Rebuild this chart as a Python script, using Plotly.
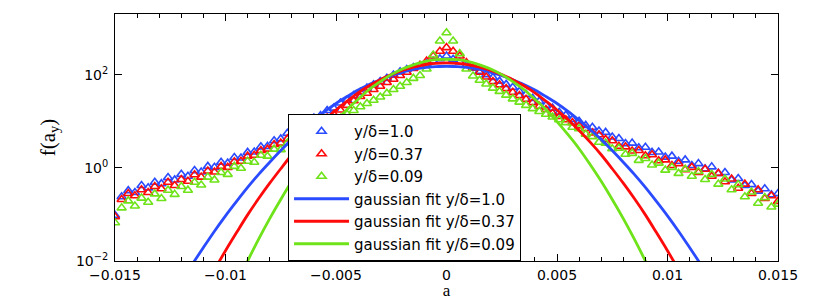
import numpy as np
import plotly.graph_objects as go

# ---- data (log10 of f(a_y)) ----
a_bins = np.round(np.linspace(-0.015, 0.015, 101), 5)   # histogram bin centres
a_fit = np.round(np.linspace(-0.012, 0.012, 49), 5)     # abscissa of the fitted curves

log_f_y10 = [-1.02, -0.62, -0.49, -0.53, -0.38, -0.43, -0.31, -0.34, -0.21, -0.26,
             -0.14, -0.18, -0.06, -0.09, 0.03, 0.01, 0.12, 0.10, 0.22, 0.21,
             0.33, 0.34, 0.45, 0.46, 0.58, 0.62, 0.74, 0.79, 0.90, 0.96,
             1.07, 1.12, 1.23, 1.28, 1.39, 1.45, 1.55, 1.62, 1.71, 1.78,
             1.85, 1.92, 1.99, 2.06, 2.11, 2.15, 2.19, 2.24, 2.29, 2.34,
             2.40,
             2.33, 2.27, 2.20, 2.14, 2.07, 2.00, 1.94, 1.86, 1.79, 1.73,
             1.64, 1.58, 1.49, 1.43, 1.34, 1.28, 1.19, 1.13, 1.04, 1.00,
             0.91, 0.87, 0.79, 0.76, 0.66, 0.63, 0.52, 0.53, 0.43, 0.44,
             0.33, 0.34, 0.23, 0.25, 0.14, 0.17, 0.05, 0.09, -0.02, 0.02,
             -0.12, -0.10, -0.26, -0.23, -0.38, -0.36, -0.50, -0.45, -0.58, -0.55]

log_f_y037 = [-1.05, -0.68, -0.55, -0.60, -0.47, -0.53, -0.40, -0.45, -0.31, -0.38,
              -0.25, -0.29, -0.15, -0.20, -0.07, -0.09, 0.03, 0.01, 0.13, 0.14,
              0.25, 0.27, 0.37, 0.40, 0.50, 0.53, 0.62, 0.66, 0.75, 0.81,
              0.91, 0.98, 1.07, 1.15, 1.24, 1.34, 1.44, 1.53, 1.60, 1.68,
              1.75, 1.83, 1.90, 1.98, 2.05, 2.13, 2.20, 2.29, 2.40, 2.50,
              2.58,
              2.50, 2.40, 2.26, 2.15, 2.05, 1.95, 1.85, 1.78, 1.70, 1.62,
              1.55, 1.47, 1.40, 1.32, 1.25, 1.17, 1.10, 1.03, 0.97, 0.90,
              0.84, 0.75, 0.71, 0.61, 0.58, 0.46, 0.45, 0.36, 0.37, 0.26,
              0.28, 0.15, 0.17, 0.05, 0.09, -0.04, 0.01, -0.10, -0.03, -0.18,
              -0.12, -0.30, -0.24, -0.44, -0.35, -0.55, -0.47, -0.66, -0.60, -0.72]

log_f_y009 = [-1.18, -0.86, -0.71, -0.82, -0.65, -0.74, -0.56, -0.66, -0.48, -0.57,
              -0.40, -0.48, -0.31, -0.37, -0.20, -0.26, -0.10, -0.14, 0.03, -0.01,
              0.14, 0.12, 0.27, 0.25, 0.40, 0.39, 0.53, 0.53, 0.67, 0.69,
              0.80, 0.84, 0.93, 0.97, 1.06, 1.15, 1.23, 1.31, 1.38, 1.45,
              1.52, 1.60, 1.68, 1.75, 1.83, 1.92, 1.98, 2.12, 2.42, 2.72,
              2.90,
              2.72, 2.45, 2.12, 1.97, 1.88, 1.80, 1.71, 1.64, 1.56, 1.48,
              1.41, 1.34, 1.27, 1.21, 1.15, 1.09, 1.03, 0.97, 0.87, 0.84,
              0.72, 0.67, 0.55, 0.53, 0.41, 0.42, 0.29, 0.31, 0.16, 0.20,
              0.06, 0.10, -0.05, 0.01, -0.12, -0.03, -0.18, -0.08, -0.25, -0.14,
              -0.35, -0.24, -0.47, -0.36, -0.62, -0.52, -0.76, -0.64, -0.84, -0.78]

log_fit_y10 = [-2.45, -2.07, -1.71, -1.36, -1.03, -0.72, -0.42, -0.14, 0.12, 0.37,
               0.61, 0.82, 1.02, 1.21, 1.38, 1.53, 1.67, 1.79, 1.89, 1.98,
               2.05, 2.11, 2.15, 2.17, 2.18, 2.17, 2.15, 2.11, 2.05, 1.98,
               1.89, 1.79, 1.67, 1.53, 1.38, 1.21, 1.02, 0.82, 0.61, 0.37,
               0.12, -0.14, -0.42, -0.72, -1.03, -1.36, -1.71, -2.07, -2.45]

log_fit_y037 = [-3.55, -3.08, -2.63, -2.19, -1.78, -1.39, -1.01, -0.66, -0.33, -0.02,
                0.28, 0.55, 0.80, 1.03, 1.24, 1.43, 1.61, 1.76, 1.89, 2.00,
                2.09, 2.16, 2.21, 2.24, 2.25, 2.24, 2.21, 2.16, 2.09, 2.00,
                1.89, 1.76, 1.61, 1.43, 1.24, 1.03, 0.80, 0.55, 0.28, -0.02,
                -0.33, -0.66, -1.01, -1.39, -1.78, -2.19, -2.63, -3.08, -3.55]

log_fit_y009 = [-5.37, -4.74, -4.14, -3.57, -3.02, -2.50, -2.00, -1.53, -1.09, -0.68,
                -0.29, 0.07, 0.41, 0.71, 0.99, 1.25, 1.47, 1.68, 1.85, 2.00,
                2.12, 2.21, 2.28, 2.32, 2.33, 2.32, 2.28, 2.21, 2.12, 2.00,
                1.85, 1.68, 1.47, 1.25, 0.99, 0.71, 0.41, 0.07, -0.29, -0.68,
                -1.09, -1.53, -2.00, -2.50, -3.02, -3.57, -4.14, -4.74, -5.37]

series_names = ["y/δ=1.0", "y/δ=0.37", "y/δ=0.09"]
fit_names = ["gaussian fit y/δ=1.0", "gaussian fit y/δ=0.37", "gaussian fit y/δ=0.09"]
colors = ["#2a4bff", "#ff0a0a", "#6fe31a"]

x_tick_vals = [-0.015, -0.01, -0.005, 0, 0.005, 0.01, 0.015]
x_tick_text = ["−0.015", "−0.01", "−0.005", "0", "0.005", "0.01", "0.015"]
y_tick_vals = [0.01, 1, 100]
y_tick_text = ["10<sup>−2</sup>", "10<sup>0</sup>", "10<sup>2</sup>"]

data_logs = [log_f_y10, log_f_y037, log_f_y009]
fit_logs = [log_fit_y10, log_fit_y037, log_fit_y009]

fig = go.Figure()
for name, col, lv in zip(series_names, colors, data_logs):
    fig.add_trace(go.Scatter(
        x=a_bins, y=np.power(10.0, np.array(lv)), mode="markers", name=name,
        marker=dict(symbol="triangle-up-open", size=8, color=col, line=dict(width=1.6, color=col)),
    ))
for name, col, lv in zip(fit_names, colors, fit_logs):
    fig.add_trace(go.Scatter(
        x=a_fit, y=np.power(10.0, np.array(lv)), mode="lines", name=name,
        line=dict(color=col, width=2.8, shape="spline"),
    ))

axis_common = dict(
    showline=True, linecolor="black", linewidth=1, mirror="ticks",
    ticks="inside", ticklen=7, tickcolor="black", showgrid=False, zeroline=False,
    tickfont=dict(family="DejaVu Sans", size=14, color="black"), automargin=False,
)

# the page body adds an 8 px offset, so the figure is 8 px smaller than the window
fig.update_layout(
    width=822, height=292,
    margin=dict(l=107, r=52, t=6, b=39),
    paper_bgcolor="white", plot_bgcolor="white",
    showlegend=True,
    legend=dict(
        x=0.261, y=0, xanchor="left", yanchor="bottom",
        bgcolor="white", bordercolor="black", borderwidth=1,
        font=dict(family="DejaVu Sans", size=15, color="black"),
        itemwidth=55, tracegroupgap=0,
    ),
    xaxis=dict(
        range=[-0.015, 0.015], tickvals=x_tick_vals, ticktext=x_tick_text,
        minor=dict(dtick=0.001, tick0=0, ticks="inside", ticklen=4, tickcolor="black"),
        ticklabelstandoff=1,
        title=dict(text="a", font=dict(family="Liberation Serif", size=17, color="black"), standoff=3),
        **axis_common,
    ),
    yaxis=dict(
        type="log", range=[-2, np.log10(2000)], tickvals=y_tick_vals, ticktext=y_tick_text,
        ticklabelstandoff=3,
        title=dict(text="f(a<sub>y</sub>)", font=dict(family="Liberation Serif", size=21, color="black"), standoff=14),
        **axis_common,
    ),
)

fig.write_html("out.html")
